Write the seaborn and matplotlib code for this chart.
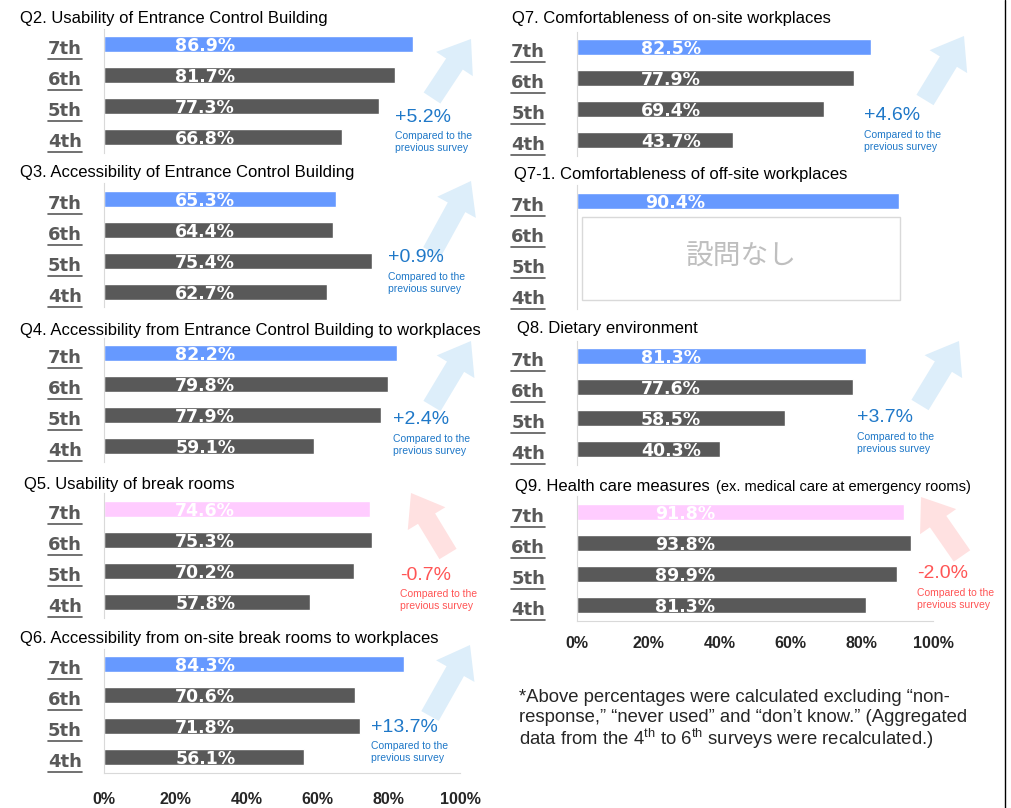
import numpy as np
import pandas as pd
import matplotlib
matplotlib.use('Agg')
import matplotlib.pyplot as plt
import seaborn as sns
from matplotlib.patches import FancyArrow, Rectangle

sns.set_style('white')
plt.rcParams['font.family'] = ['Liberation Sans', 'DejaVu Sans']
plt.rcParams['mathtext.fontset'] = 'custom'
plt.rcParams['mathtext.rm'] = 'Liberation Sans'

# ---- data ----
rounds = ['7th', '6th', '5th', '4th']
q2 = [86.9, 81.7, 77.3, 66.8]
q3 = [65.3, 64.4, 75.4, 62.7]
q4 = [82.2, 79.8, 77.9, 59.1]
q5 = [74.6, 75.3, 70.2, 57.8]
q6 = [84.3, 70.6, 71.8, 56.1]
q7 = [82.5, 77.9, 69.4, 43.7]
q7_1 = [90.4, np.nan, np.nan, np.nan]
q8 = [81.3, 77.6, 58.5, 40.3]
q9 = [91.8, 93.8, 89.9, 81.3]
changes = ['+5.2%', '+0.9%', '+2.4%', '-0.7%', '+13.7%', '+4.6%', None, '+3.7%', '-2.0%']
titles = ['Q2. Usability of Entrance Control Building',
          'Q3. Accessibility of Entrance Control Building',
          'Q4. Accessibility from Entrance Control Building to workplaces',
          'Q5. Usability of break rooms',
          'Q6. Accessibility from on-site break rooms to workplaces',
          'Q7. Comfortableness of on-site workplaces',
          'Q7-1. Comfortableness of off-site workplaces',
          'Q8. Dietary environment',
          'Q9. Health care measures']
x_ticks = [0, 20, 40, 60, 80, 100]
x_tick_labels = ['0%', '20%', '40%', '60%', '80%', '100%']

BLUE, PINK, DARK = '#6699FF', '#FFCCFF', '#595959'
UP_TXT, UP_ARR = '#1F78C8', '#DDEEFA'
DN_TXT, DN_ARR = '#FF5555', '#FFE1E1'
SPINE = '#D9D9D9'

W, H = 1011, 808
fig = plt.figure(figsize=(W / 100, H / 100), dpi=100)

ov = fig.add_axes([0, 0, 1, 1])
ov.set_xlim(0, W)
ov.set_ylim(H, 0)
ov.axis('off')
ov.set_zorder(5)


def px_rect(x0, y0, x1, y1):
    return [x0 / W, 1 - y1 / H, (x1 - x0) / W, (y1 - y0) / H]


# layout: (values, left px, right px, top px, title x, title y, label x, arrow tail, arrow tip, change text xy)
panels = [
    (q2, 104, 460, 28.5, 20, 18, 20, (432, 98), (471, 39), (395, 117)),
    (q3, 104, 460, 183.5, 20, 172, 20, (432, 252), (471, 181), (388, 258)),
    (q4, 104, 460, 337.5, 20, 330, 20, (432, 406), (471, 341), (393, 420)),
    (q5, 104, 460, 493.5, 24, 484, 20, (448, 554), (411, 493), (400, 575)),
    (q6, 104, 460, 648.5, 20, 638, 20, (430, 716), (470, 645), (371, 727)),
    (q7, 577, 933, 31.5, 512, 18, 18, (925, 100), (964, 36), (864, 116)),
    (q7_1, 577, 933, 185.5, 514, 174, 19, None, None, None),
    (q8, 577, 933, 340.5, 517, 329, 18, (920, 405), (959, 341), (857, 418)),
    (q9, 577, 933, 496.5, 515, 486, 22, (962, 556), (921, 497), (917, 574)),
]

axes = []
for i, (vals, x0, x1, top, tx, ty, lx, tail, tip, cxy) in enumerate(panels):
    ax = fig.add_axes(px_rect(x0, top, x1, top + 124))
    ax.set_facecolor('none')
    axes.append(ax)
    df = pd.DataFrame({'round': rounds, 'value': vals})
    first = PINK if changes[i] is not None and changes[i].startswith('-') else BLUE
    pal = {'7th': first, '6th': DARK, '5th': DARK, '4th': DARK}
    sns.barplot(data=df, x='value', y='round', hue='round', order=rounds,
                hue_order=rounds, palette=pal, orient='h', width=0.52,
                errorbar=None, legend=False, saturation=1, ax=ax)
    ax.set_xlim(0, 100)
    ax.set_ylim(3.5, -0.5)
    ax.set_xlabel('')
    ax.set_ylabel('')
    # labels sit a little below the bar centres in the original
    ax.set_yticks([j + 0.1 for j in range(4)], labels=rounds)
    ax.set_yticks([-0.5, 0.5, 1.5, 2.5, 3.5], minor=True)
    ax.tick_params(axis='y', which='major', length=0, pad=16 if x0 < 300 else 23,
                   labelsize=13, labelcolor=DARK)
    ax.tick_params(axis='y', which='minor', direction='in', length=6, color=SPINE, width=1)
    for lbl in ax.get_yticklabels():
        lbl.set_fontweight('bold')
        lbl.set_fontfamily('DejaVu Sans')
    for s in ['top', 'right']:
        ax.spines[s].set_visible(False)
    ax.spines['left'].set_color(SPINE)
    last = i in (4, 8)
    if last:
        ax.spines['bottom'].set_color(SPINE)
        ax.set_xticks(x_ticks, labels=x_tick_labels)
        ax.tick_params(axis='x', direction='in', length=5, color=SPINE,
                       pad=14 if x0 < 300 else 11, labelsize=11.5)
        for lbl in ax.get_xticklabels():
            lbl.set_fontweight('bold')
    else:
        ax.spines['bottom'].set_visible(False)
        ax.set_xticks([])
    for j, v in enumerate(vals):
        if not np.isnan(v):
            ax.text(lx, j + 0.05, f'{v:.1f}%', color='white', fontweight='bold',
                    fontsize=12.5, family='DejaVu Sans', ha='left', va='center')

    # title
    ov.text(tx, ty, titles[i], fontsize=12, ha='left', va='center', color='black')

    # change arrow + text
    if changes[i] is not None:
        up = not changes[i].startswith('-')
        ac = UP_ARR if up else DN_ARR
        tc = UP_TXT if up else DN_TXT
        ov.add_patch(FancyArrow(tail[0], tail[1], tip[0] - tail[0], tip[1] - tail[1],
                                width=20, head_width=44, head_length=30,
                                length_includes_head=True, color=ac, lw=0, zorder=0))
        ov.text(cxy[0], cxy[1], changes[i], fontsize=14, color=tc, ha='left', va='center')
        ov.text(cxy[0], cxy[1] + 19, 'Compared to the', fontsize=7.5, color=tc,
                ha='left', va='center')
        ov.text(cxy[0], cxy[1] + 31, 'previous survey', fontsize=7.5, color=tc,
                ha='left', va='center')

# Q9 subtitle
ov.text(716, 487, '(ex. medical care at emergency rooms)', fontsize=10.5,
        ha='left', va='center', color='black')

# "no question" box for Q7-1
ov.add_patch(Rectangle((582, 217), 318, 83, fill=False, ec='#D9D9D9', lw=1))
ov.text(741, 257, '設問なし', fontsize=20, color='#BFBFBF', ha='center', va='center',
        family=['Noto Sans CJK JP', 'DejaVu Sans'])

# footnote
ov.text(519, 697, '*Above percentages were calculated excluding \u201cnon-',
        fontsize=13.3, ha='left', va='center')
ov.text(519, 718, 'response,\u201d \u201cnever used\u201d and \u201cdon\u2019t know.\u201d (Aggregated',
        fontsize=13.3, ha='left', va='center')
ov.text(519, 739, r'data from the 4$^{\rm th}$ to 6$^{\rm th}$ surveys were recalculated.)',
        fontsize=13.3, ha='left', va='center')

# right border
ov.plot([1005, 1005], [0, 808], color='black', lw=1)

# underline the round labels
fig.canvas.draw()
inv = ov.transData.inverted()
for ax in axes:
    for lbl in ax.get_yticklabels():
        bb = lbl.get_window_extent()
        (a, b), (c, d) = inv.transform([[bb.x0, bb.y0], [bb.x1, bb.y1]])
        ov.plot([a, c], [b + 1, b + 1], color=DARK, lw=1.2)

fig.savefig('out.png', dpi=100)
